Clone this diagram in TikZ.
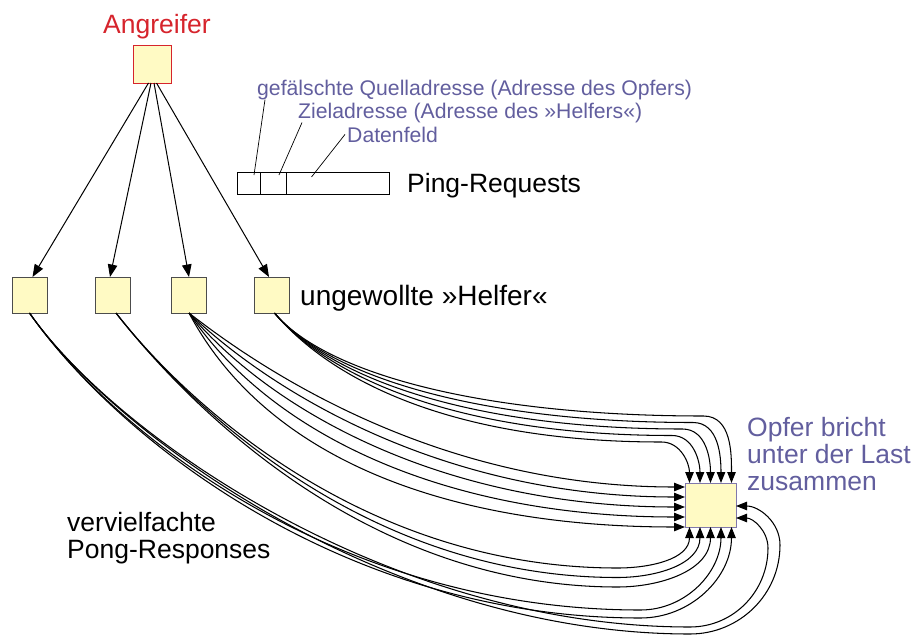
\documentclass[tikz,border=0pt]{standalone}
\usepackage{fontspec}
\setmainfont{Liberation Sans}
\usetikzlibrary{arrows.meta,positioning}

\definecolor{boxfill}{RGB}{255,250,196}
\definecolor{attred}{RGB}{214,36,44}
\definecolor{labviolet}{RGB}{98,94,158}
\definecolor{vicedge}{RGB}{128,120,172}

\begin{document}
\begin{tikzpicture}[x=1pt,y=-1pt,>={Triangle[length=11pt,width=8.5pt]},
host box/.style={draw=black!70,fill=boxfill,line width=0.9pt,minimum width=35pt,minimum height=36pt,inner sep=0pt,outer sep=0pt},
big text/.style={font=\fontsize{26.5}{27}\selectfont,inner sep=0pt,align=left},
small text/.style={font=\fontsize{21.2}{22}\selectfont,inner sep=0pt,text=labviolet},
field/.style={draw,line width=0.8pt,minimum height=22pt,inner sep=0pt,outer sep=0pt},
req/.style={-{Triangle[length=12.5pt,width=9.5pt]},line width=1pt},
resp/.style={->,line width=1.05pt},
lead/.style={line width=0.7pt}]

\useasboundingbox (0,0) rectangle (913,637);

% attacker
\node[big text,text=attred,anchor=base] (angtxt) at (157,33) {Angreifer};
\node[host box,draw=attred,minimum width=38pt,minimum height=38pt] (ang) at (152.5,64) {};

% unwanted helpers
\node[host box] (h1) at (29.5,295) {};
\node[host box] (h2) at (113,295) {};
\node[host box] (h3) at (189,295) {};
\node[host box] (h4) at (271.5,295) {};
\node[big text,font=\fontsize{28}{28}\selectfont,anchor=base west] (helptxt) at (300,305) {ungewollte »Helfer«};

% victim
\node[host box,draw=vicedge,minimum width=51pt,minimum height=44pt] (vic) at (710.5,505) {};
\node[big text,text=labviolet,anchor=north west] (victxt) at (747,417.5) {Opfer bricht\\unter der Last\\zusammen};
\node[big text,anchor=north west] (pongtxt) at (67,512.5) {vervielfachte\\Pong-Responses};

% ping request packet
\node[field,minimum width=23pt,anchor=north west] (f1) at (237,172) {};
\node[field,minimum width=26pt,anchor=west] (f2) at (f1.east) {};
\node[field,minimum width=103pt,anchor=west] (f3) at (f2.east) {};
\node[big text,anchor=base west] (pingtxt) at (407,192) {Ping-Requests};

\node[small text,anchor=base west] (lab1) at (257,95) {gefälschte Quelladresse (Adresse des Opfers)};
\node[small text,anchor=base west] (lab2) at (298,118) {Zieladresse (Adresse des »Helfers«)};
\node[small text,anchor=base west] (lab3) at (347,142) {Datenfeld};

\draw[lead] ([xshift=8pt]lab1.south west) -- ([xshift=5.5pt,yshift=-3pt]f1.north);
\draw[lead] ([xshift=4pt]lab2.south west) -- ([xshift=6pt,yshift=-3pt]f2.north);
\draw[lead] ([xshift=-2pt]lab3.west) -- ([xshift=-26pt,yshift=-5pt]f3.north);

% requests to the helpers
\foreach \s/\h/\t in {-4/h1/3,-1.5/h2/-3,1.5/h3/0,4/h4/-2.5}
  \draw[req] ([xshift=\s pt]ang.south) -- ([xshift=\t pt]\h.north);

% responses: helper 4 -> top
\foreach \k in {0,...,4}{
  \pgfmathsetmacro\ex{21-10.5*\k}
  \pgfmathsetmacro\mx{\ex-28}
  \pgfmathsetmacro\my{67-6.5*\k}
  \draw[resp] ([xshift=3pt]h4.south) to[out=-50,in=180,out distance=80pt,in distance=220pt]
    ([xshift=\mx pt,yshift=\my pt]vic.north) to[out=0,in=90] ([xshift=\ex pt]vic.north);
}

% responses: helper 3 -> left
\foreach \k in {0,...,4}{
  \pgfmathsetmacro\ey{18-10*\k}
  \pgfmathsetmacro\oa{-38-6*\k}
  \pgfmathsetmacro\od{90+20*\k}
  \pgfmathsetmacro\id{250-5*\k}
  \draw[resp] (h3.south) to[out=\oa,in=180,out distance=\od pt,in distance=\id pt] ([yshift=\ey pt]vic.west);
}

% responses: helper 2 -> bottom
\foreach \k in {0,1,2}{
  \pgfmathsetmacro\ex{-21+10.5*\k}
  \pgfmathsetmacro\ly{-41-9.5*\k}
  \draw[resp] ([xshift=3pt]h2.south) to[out=-52,in=180,out distance=120pt,in distance=250pt]
    ([xshift=-93pt,yshift=\ly pt]vic.south) to[out=0,in=-90] ([xshift=\ex pt]vic.south);
}

% responses: helper 1 -> bottom and right
\foreach \ly/\ex in {-83/10.5,-91/21}
  \draw[resp] (h1.south) to[out=-55,in=180,out distance=150pt,in distance=300pt]
    ([xshift=-70pt,yshift=\ly pt]vic.south) to[out=0,in=-90] ([xshift=\ex pt]vic.south);
\foreach \ly/\rx/\ry/\ey in {-100/32/-43/-13,-107/44/-40/-1}
  \draw[resp] (h1.south) to[out=-55,in=180,out distance=150pt,in distance=300pt]
    ([xshift=-20.5pt,yshift=\ly pt]vic.south) to[out=0,in=-90]
    ([xshift=\rx pt,yshift=\ry pt]vic.east) to[out=90,in=0] ([yshift=\ey pt]vic.east);

\end{tikzpicture}
\end{document}
